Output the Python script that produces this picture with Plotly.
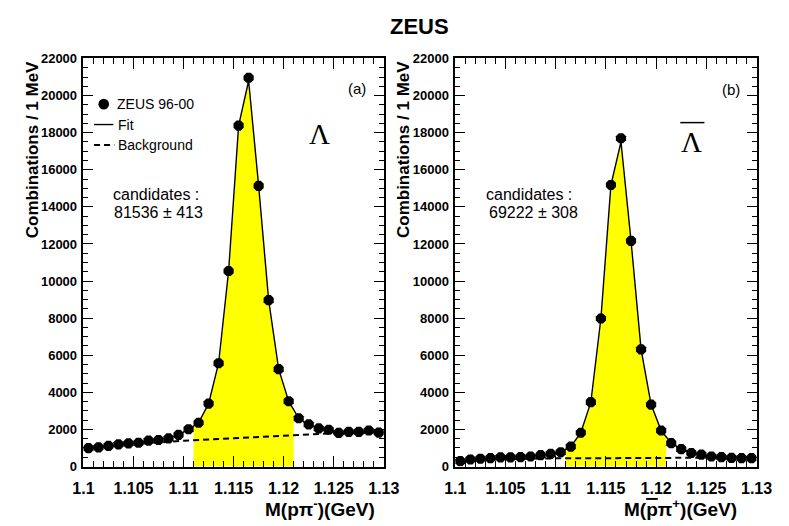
import numpy as np
import plotly.graph_objects as go

# Bin centres of the 1 MeV mass bins (GeV)
mass = [1.1005, 1.1015, 1.1025, 1.1035, 1.1045, 1.1055, 1.1065, 1.1075, 1.1085, 1.1095,
        1.1105, 1.1115, 1.1125, 1.1135, 1.1145, 1.1155, 1.1165, 1.1175, 1.1185, 1.1195,
        1.1205, 1.1215, 1.1225, 1.1235, 1.1245, 1.1255, 1.1265, 1.1275, 1.1285, 1.1295]

# Lambda candidates: M(p pi-)
lam_data = [990, 1030, 1110, 1190, 1250, 1280, 1400, 1430, 1520, 1710,
            2010, 2360, 3390, 5570, 10540, 18380, 20960, 15130, 8970, 5250,
            3520, 2600, 2270, 2060, 1980, 1810, 1870, 1870, 1940, 1830]
lam_fit = [990, 1040, 1100, 1180, 1240, 1290, 1390, 1440, 1530, 1700,
           2000, 2360, 3390, 5570, 10540, 18380, 20800, 15130, 8970, 5250,
           3520, 2600, 2250, 2060, 1970, 1850, 1860, 1880, 1900, 1850]

# Anti-Lambda candidates: M(pbar pi+)
alam_data = [290, 380, 420, 450, 490, 490, 510, 540, 610, 680,
             770, 1070, 1820, 3470, 7980, 15180, 17700, 12170, 6320, 3340,
             1940, 1260, 940, 730, 640, 540, 510, 470, 450, 450]
alam_fit = [300, 380, 420, 450, 480, 500, 520, 550, 610, 680,
            780, 1070, 1820, 3470, 7980, 15180, 17500, 12170, 6320, 3340,
            1940, 1260, 940, 740, 640, 560, 510, 480, 460, 450]

# Background component of the fits
bg_mass = [1.100, 1.105, 1.110, 1.115, 1.120, 1.125, 1.130]
lam_bg = [960, 1200, 1390, 1520, 1680, 1790, 1840]
alam_bg = [350, 400, 440, 450, 460, 480, 485]

# Signal window that is shaded
signal_window = [1.111, 1.121]

x_tickvals = [1.1, 1.105, 1.11, 1.115, 1.12, 1.125, 1.13]
x_ticktext = ["1.1", "1.105", "1.11", "1.115", "1.12", "1.125", "1.13"]

W, H = 789, 526
def px(x):
    return x / W
def py(y):
    return 1 - y / H

FONT = "Liberation Sans"
YELLOW = "#ffff00"
MARKER = dict(color="black", size=11, symbol="octagon")
FIT_LINE = dict(color="black", width=1.4)
BG_LINE = dict(color="black", width=2, dash="6px,4px")

fig = go.Figure()

def add_panel(data, fit, bg, xa, ya):
    lo, hi = signal_window
    inside = [m for m in mass if lo < m < hi]
    sx = [lo] + inside + [hi]
    sy = list(np.interp(sx, mass, fit))
    fig.add_trace(go.Scatter(x=sx, y=sy, mode="lines", fill="tozeroy",
                             fillcolor=YELLOW, line=dict(width=0),
                             xaxis=xa, yaxis=ya, hoverinfo="skip"))
    fig.add_trace(go.Scatter(x=mass, y=fit, mode="lines", name="Fit",
                             line=FIT_LINE, xaxis=xa, yaxis=ya))
    fig.add_trace(go.Scatter(x=bg_mass, y=bg, mode="lines", name="Background",
                             line=BG_LINE, xaxis=xa, yaxis=ya))
    fig.add_trace(go.Scatter(x=mass, y=data, mode="markers", name="ZEUS 96-00",
                             marker=MARKER, xaxis=xa, yaxis=ya))

add_panel(lam_data, lam_fit, lam_bg, "x", "y")
add_panel(alam_data, alam_fit, alam_bg, "x2", "y2")

# empty traces so the mirrored tick axes (top / right) get drawn
fig.add_trace(go.Scatter(x=[], y=[], xaxis="x3", yaxis="y3"))
fig.add_trace(go.Scatter(x=[], y=[], xaxis="x4", yaxis="y4"))

xticks = dict(ticks="inside", ticklen=11, tickwidth=1.2, tickcolor="black",
              showgrid=False, zeroline=False,
              minor=dict(tickmode="linear", tick0=1.1, dtick=0.001, ticks="inside",
                         ticklen=6, tickwidth=1.1, tickcolor="black", showgrid=False))
yticks = dict(ticks="inside", ticklen=10, tickwidth=1.2, tickcolor="black",
              showgrid=False, zeroline=False,
              minor=dict(tickmode="linear", tick0=0, dtick=500, ticks="inside",
                         ticklen=5, tickwidth=1.1, tickcolor="black", showgrid=False))

xmain = dict(range=[1.1, 1.13], tickmode="array", tickvals=x_tickvals, ticktext=x_ticktext,
             showline=True, linecolor="black", linewidth=1.5, mirror=True,
             ticklabelstandoff=7,
             tickfont=dict(family=FONT, size=16, color="black", weight="bold"), **xticks)
ymain = dict(range=[0, 22000], tickmode="linear", dtick=2000, tick0=0, tickformat="d",
             showline=True, linecolor="black", linewidth=1.5, mirror=True,
             ticklabelstandoff=2,
             tickfont=dict(family=FONT, size=13, color="black", weight="bold"), **yticks)
xtop = dict(range=[1.1, 1.13], tickmode="array", tickvals=x_tickvals,
            showticklabels=False, showline=False, side="top", **xticks)
yright = dict(range=[0, 22000], tickmode="linear", dtick=2000, tick0=0,
              showticklabels=False, showline=False, side="right", **yticks)

fig.update_layout(
    width=W, height=H, margin=dict(l=0, r=0, t=0, b=0),
    paper_bgcolor="white", plot_bgcolor="white", showlegend=False,
    xaxis=dict(domain=[px(75), px(386)], anchor="y", **xmain),
    yaxis=dict(domain=[py(473), py(53)], anchor="x", **ymain),
    xaxis2=dict(domain=[px(460), px(772)], anchor="y2", **xmain),
    yaxis2=dict(domain=[py(473), py(53)], anchor="x2", **ymain),
    xaxis3=dict(overlaying="x", anchor="y3", **xtop),
    yaxis3=dict(overlaying="y", anchor="x3", **yright),
    xaxis4=dict(overlaying="x2", anchor="y4", **xtop),
    yaxis4=dict(overlaying="y2", anchor="x4", **yright),
)

# Legend key for panel (a)
fig.add_shape(type="circle", xref="paper", yref="paper",
              x0=px(90.5), x1=px(101.5), y0=py(94.5), y1=py(105.5),
              fillcolor="black", line=dict(width=0))
fig.add_shape(type="line", xref="paper", yref="paper",
              x0=px(86), x1=px(106), y0=py(121), y1=py(121), line=FIT_LINE)
fig.add_shape(type="line", xref="paper", yref="paper",
              x0=px(86), x1=px(107), y0=py(142), y1=py(142), line=BG_LINE)

# Bar over the anti-Lambda symbol
fig.add_shape(type="line", xref="paper", yref="paper",
              x0=px(693), x1=px(718), y0=py(119), y1=py(119),
              line=dict(color="black", width=1.5))

annotations = [
    dict(text="<b>ZEUS</b>", x=px(423), y=py(20), size=22, family=FONT),
    dict(text="ZEUS 96-00", x=px(108), y=py(100), size=14, family=FONT, xanchor="left"),
    dict(text="Fit", x=px(109), y=py(121), size=14, family=FONT, xanchor="left"),
    dict(text="Background", x=px(109), y=py(142), size=14, family=FONT, xanchor="left"),
    dict(text="(a)", x=px(358), y=py(84), size=15, family=FONT),
    dict(text="(b)", x=px(745), y=py(85), size=15, family=FONT),
    dict(text="Λ", x=px(319), y=py(131), size=29, family="Liberation Serif"),
    dict(text="Λ", x=px(705), y=py(139), size=29, family="Liberation Serif"),
    dict(text="candidates :", x=px(104), y=py(193), size=16, family=FONT, xanchor="left"),
    dict(text="81536 ± 413", x=px(105), y=py(212), size=16, family=FONT, xanchor="left"),
    dict(text="candidates :", x=px(490), y=py(193), size=16, family=FONT, xanchor="left"),
    dict(text="69222 ± 308", x=px(493), y=py(212), size=16, family=FONT, xanchor="left"),
    dict(text="<b>M(pπ<sup>-</sup>)(GeV)</b>", x=px(379), y=py(516), size=19, family=FONT,
         xanchor="right"),
    dict(text="<b>M(<span style='text-decoration:overline'>p</span>π<sup>+</sup>)(GeV)</b>",
         x=px(754), y=py(516), size=19, family=FONT, xanchor="right"),
]
for a in annotations:
    fig.add_annotation(text=a["text"], x=a["x"], y=a["y"], xref="paper", yref="paper",
                       xanchor=a.get("xanchor", "center"), yanchor="middle",
                       showarrow=False,
                       font=dict(family=a["family"], size=a["size"], color="black"))

for xpos in (23, 407):
    fig.add_annotation(text="<b>Combinations / 1 MeV</b>", x=px(xpos), y=py(54),
                       xref="paper", yref="paper", xanchor="center", yanchor="top",
                       textangle=-90, showarrow=False,
                       font=dict(family=FONT, size=17, color="black"))

fig.write_html("out.html")
